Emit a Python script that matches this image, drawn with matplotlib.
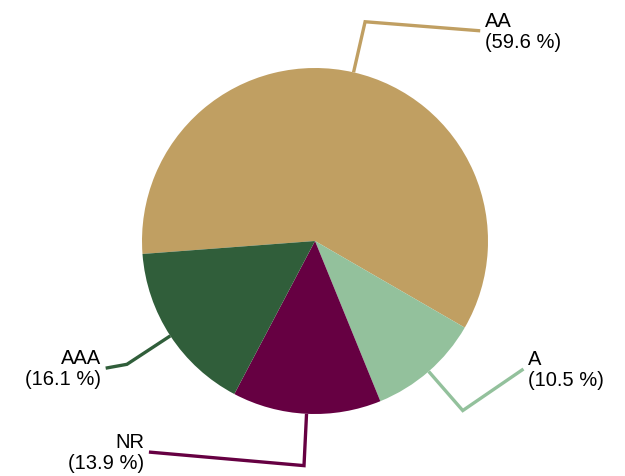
import matplotlib.pyplot as plt
import numpy as np

plt.rcParams['font.family'] = ['Liberation Sans', 'DejaVu Sans']

labels = ['AA', 'A', 'NR', 'AAA']
shares = [59.6, 10.5, 13.9, 16.1]
colors = ['#C09F62', '#93C19C', '#660042', '#305E3A']

# where each label line ends (pie radius = 1)
label_pos = [(0.955, 1.215), (1.205, -0.74), (-0.96, -1.22), (-1.21, -0.735)]

fig = plt.figure(figsize=(6.25, 4.77), dpi=100)
ax = fig.add_axes([0, 0, 1, 1])

wedges, _ = ax.pie(shares, colors=colors, startangle=184.3, counterclock=False,
                   radius=1, wedgeprops=dict(linewidth=0))

for w, lab, val, c, (tx, ty) in zip(wedges, labels, shares, colors, label_pos):
    mid = np.deg2rad((w.theta1 + w.theta2) / 2)
    x0, y0 = np.cos(mid), np.sin(mid)
    x1, y1 = 1.3 * x0, 1.3 * y0
    ax.plot([x0, x1, tx], [y0, y1, ty], color=c, lw=2.4, solid_capstyle='butt',
            solid_joinstyle='miter')
    if tx > 0:
        ax.text(tx + 0.025, ty, f'{lab}\n({val} %)', ha='left', va='center',
                fontsize=14.5, linespacing=1.1)
    else:
        ax.text(tx - 0.025, ty, f'{lab}\n({val} %)', ha='right', va='center',
                fontsize=14.5, linespacing=1.1, multialignment='right')

ax.set_xlim(-315 / 173, 310 / 173)
ax.set_ylim(-235 / 173, 242 / 173)
ax.set_aspect('equal')
ax.axis('off')

fig.savefig('out.png', dpi=100)
